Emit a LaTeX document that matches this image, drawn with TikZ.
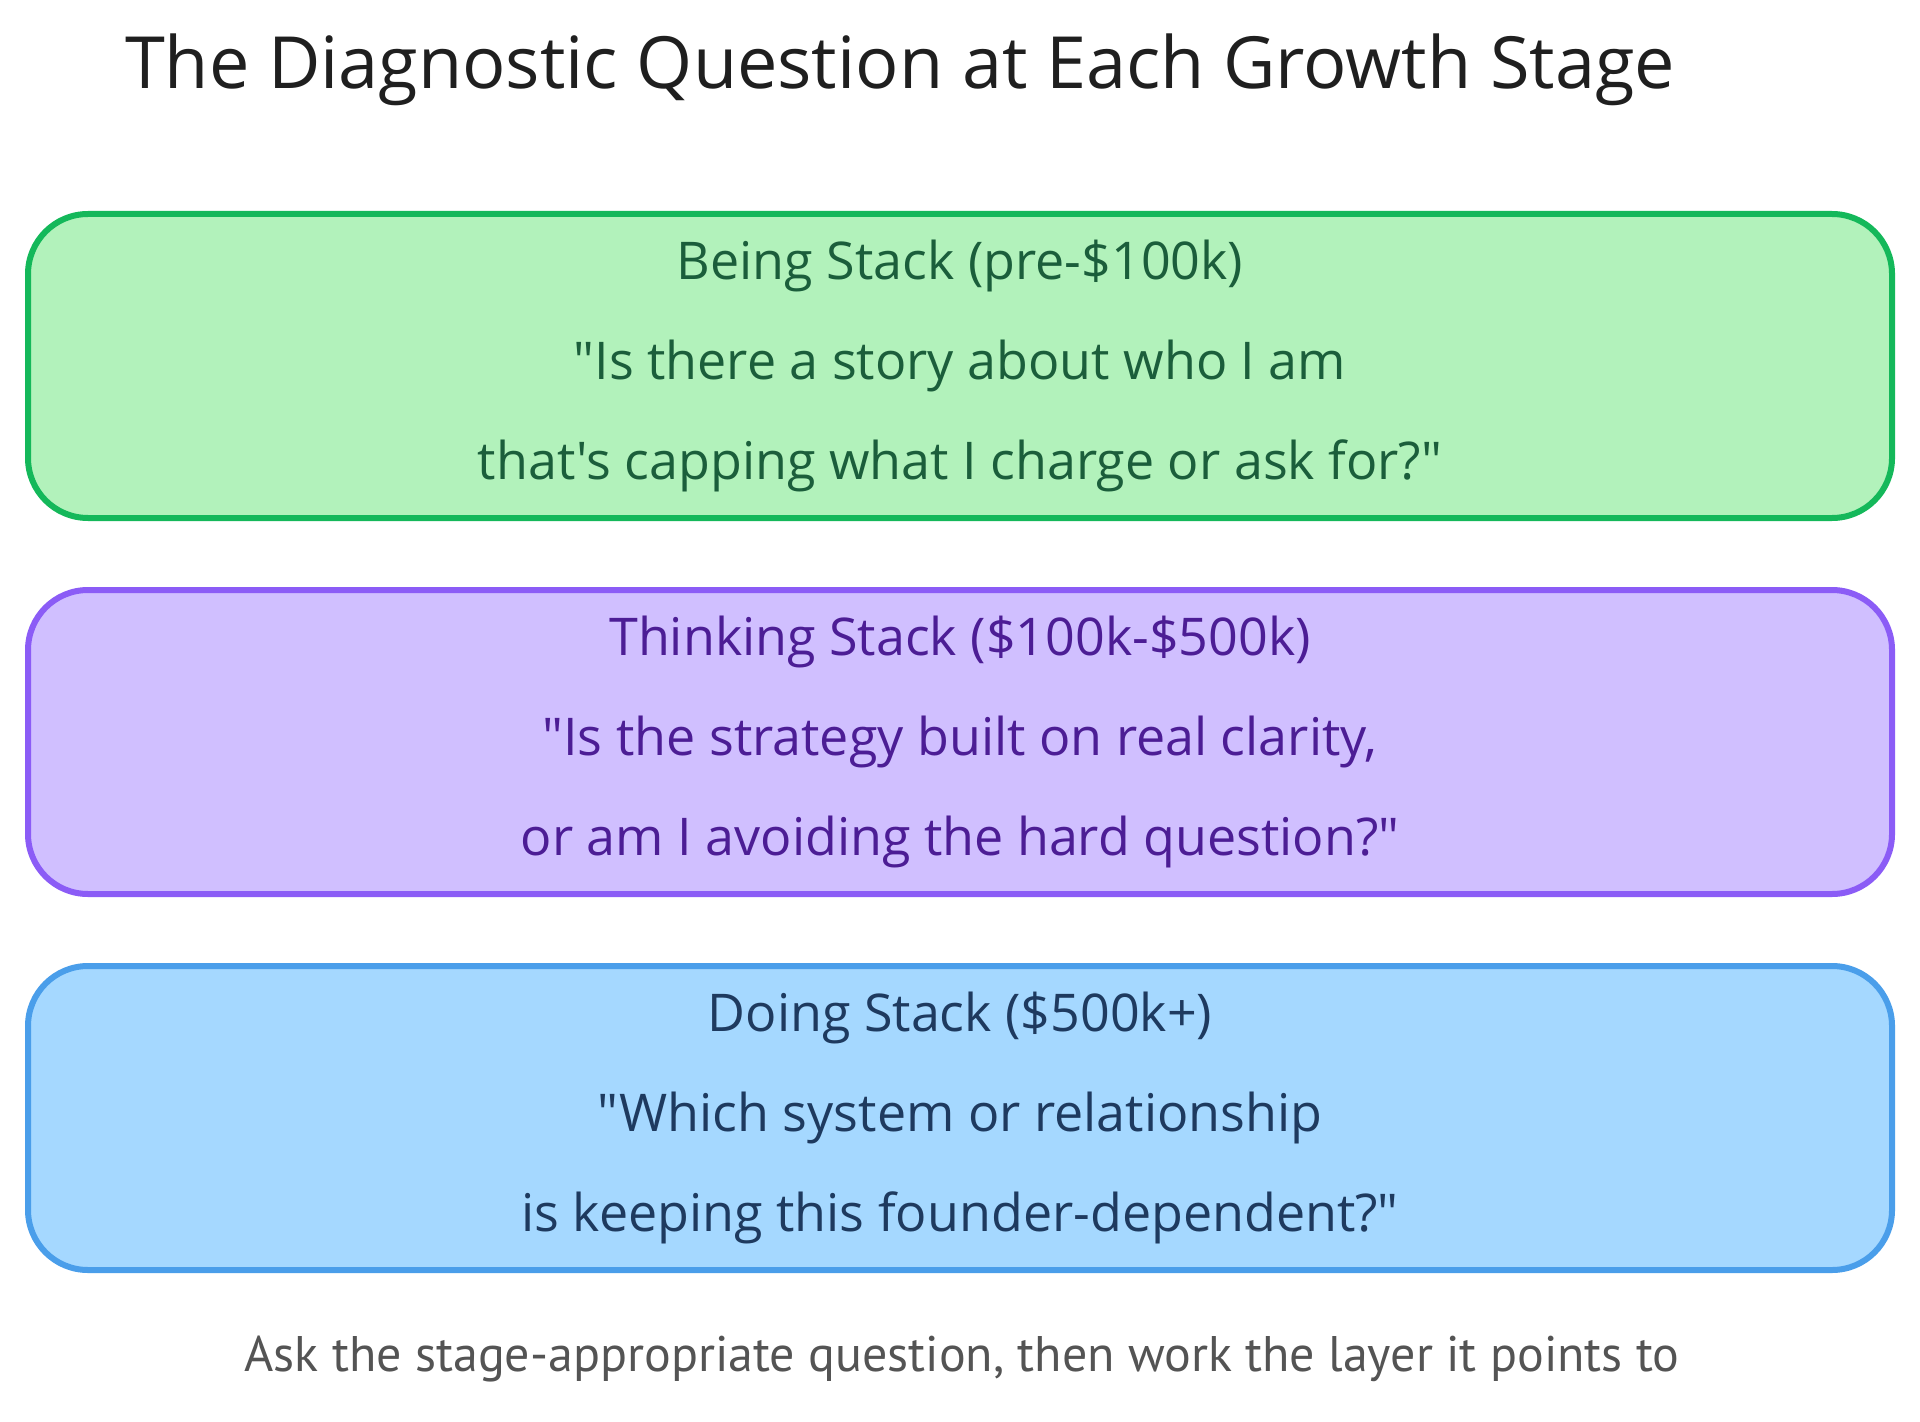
\documentclass[tikz,border=0pt]{standalone}
\usepackage{fontspec}
\setmainfont{Open Sans}[Ligatures=TeXOff]
\newfontfamily\notefont{PT Sans}

\definecolor{beingfill}{HTML}{B2F2BB}
\definecolor{beingline}{HTML}{14B85A}
\definecolor{beingtext}{HTML}{1B5E3B}
\definecolor{thinkfill}{HTML}{D0BFFF}
\definecolor{thinkline}{HTML}{8B5CF6}
\definecolor{thinktext}{HTML}{4C1D95}
\definecolor{doingfill}{HTML}{A5D8FF}
\definecolor{doingline}{HTML}{4A9EEA}
\definecolor{doingtext}{HTML}{1E3A5F}

\tikzset{
  stack/.style={draw, line width=3pt, rounded corners=30pt,
    minimum width=932pt, minimum height=152pt, align=center,
    font=\fontsize{26}{50}\selectfont},
  heading/.style={font=\fontsize{36}{40}\selectfont, text=black!88},
  footnote/.style={font=\notefont\fontsize{25}{28}\selectfont, text=black!67}
}

\begin{document}
\begin{tikzpicture}[x=0.5pt,y=-0.5pt]

  \newcommand\Cx{960}
  \newcommand\Gap{376}

  \useasboundingbox (0,0) rectangle (1920,1422);

  \node[heading] (title) at (900,70) {The Diagnostic Question at Each Growth Stage};

  %% the three stages
  \node[stack, fill=beingfill, draw=beingline, text=beingtext]
    (being) at (\Cx, 366) {Being Stack (pre-\$100k)\\
    "Is there a story about who I am\\
    that's capping what I charge or ask for?"};
  \node[stack, fill=thinkfill, draw=thinkline, text=thinktext]
    (thinking) at (\Cx, 366+\Gap) {Thinking Stack (\$100k-\$500k)\\
    "Is the strategy built on real clarity,\\
    or am I avoiding the hard question?"};
  \node[stack, fill=doingfill, draw=doingline, text=doingtext]
    (doing) at (\Cx, 366+2*\Gap) {Doing Stack (\$500k+)\\
    "Which system or relationship\\
    is keeping this founder-dependent?"};

  \node[footnote] (note) at (962,1359)
    {Ask the stage-appropriate question, then work the layer it points to};

\end{tikzpicture}
\end{document}
